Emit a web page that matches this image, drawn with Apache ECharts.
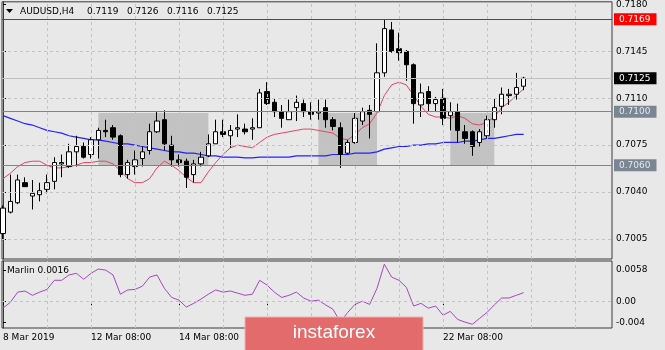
<!DOCTYPE html>
<html>
<head>
<meta charset="utf-8">
<script src="https://cdn.jsdelivr.net/npm/echarts@6/dist/echarts.min.js"></script>
<style>
html, body { margin: 0; padding: 0; background: #e8e8e8; }
#main { width: 665px; height: 350px; }
</style>
</head>
<body>
<div id="main"></div>
<script>
// AUDUSD H4, 8 Mar 2019 08:00 ..
var symbolName = 'AUDUSD,H4';

var openP = [0.7009,0.7025,0.7032,0.7047,0.7037,0.7038,0.7042,0.7048,0.7061,0.7059,
    0.7070,0.7074,0.7068,0.7079,0.7086,0.7088,0.7082,0.7053,0.7059,0.7065,
    0.7071,0.7085,0.7094,0.7075,0.7064,0.7063,0.7053,0.7061,0.7067,0.7076,
    0.7085,0.7082,0.7087,0.7087,0.7087,0.7088,0.7115,0.7107,0.7100,0.7094,
    0.7103,0.7106,0.7100,0.7099,0.7103,0.7094,0.7088,0.7069,0.7077,0.7093,
    0.7101,0.7100,0.7129,0.7161,0.7147,0.7145,0.7135,0.7105,0.7115,0.7106,
    0.7110,0.7097,0.7100,0.7085,0.7085,0.7077,0.7082,0.7094,0.7104,0.7112,
    0.7113,0.7119];
var highP = [0.7030,0.7053,0.7053,0.7051,0.7049,0.7047,0.7053,0.7066,0.7068,0.7076,
    0.7082,0.7077,0.7081,0.7088,0.7094,0.7090,0.7083,0.7064,0.7071,0.7074,
    0.7091,0.7100,0.7101,0.7082,0.7068,0.7065,0.7064,0.7070,0.7083,0.7094,
    0.7094,0.7090,0.7098,0.7091,0.7095,0.7117,0.7122,0.7110,0.7105,0.7109,
    0.7112,0.7109,0.7107,0.7109,0.7109,0.7096,0.7092,0.7079,0.7099,0.7103,
    0.7105,0.7151,0.7169,0.7167,0.7159,0.7146,0.7136,0.7121,0.7119,0.7111,
    0.7117,0.7107,0.7106,0.7090,0.7086,0.7087,0.7097,0.7110,0.7118,0.7117,
    0.7129,0.7126];
var lowP = [0.7004,0.7024,0.7031,0.7044,0.7027,0.7033,0.7039,0.7042,0.7051,0.7058,
    0.7059,0.7065,0.7065,0.7065,0.7081,0.7079,0.7051,0.7050,0.7053,0.7059,
    0.7068,0.7084,0.7071,0.7059,0.7059,0.7043,0.7047,0.7059,0.7066,0.7076,
    0.7081,0.7073,0.7081,0.7083,0.7079,0.7088,0.7105,0.7096,0.7088,0.7094,
    0.7093,0.7096,0.7094,0.7094,0.7088,0.7086,0.7058,0.7068,0.7076,0.7090,
    0.7080,0.7100,0.7126,0.7144,0.7138,0.7123,0.7091,0.7096,0.7100,0.7100,
    0.7090,0.7086,0.7077,0.7076,0.7067,0.7074,0.7080,0.7088,0.7098,0.7105,
    0.7109,0.7116];
var closeP = [0.7028,0.7033,0.7049,0.7044,0.7039,0.7041,0.7047,0.7062,0.7062,0.7070,
    0.7074,0.7066,0.7079,0.7086,0.7085,0.7081,0.7053,0.7062,0.7064,0.7070,
    0.7085,0.7093,0.7076,0.7064,0.7062,0.7051,0.7061,0.7066,0.7076,0.7085,
    0.7083,0.7086,0.7088,0.7085,0.7088,0.7114,0.7106,0.7100,0.7095,0.7100,
    0.7107,0.7100,0.7098,0.7100,0.7094,0.7089,0.7068,0.7077,0.7095,0.7100,
    0.7098,0.7129,0.7162,0.7145,0.7144,0.7135,0.7106,0.7114,0.7106,0.7109,
    0.7095,0.7100,0.7086,0.7080,0.7074,0.7085,0.7094,0.7103,0.7113,0.7113,
    0.7118,0.7125];

// moving averages
var maFast = [0.7050,0.7054,0.7059,0.7062,0.7063,0.7063,0.7060,0.7058,0.7058,0.7059,
    0.7060,0.7062,0.7062,0.7063,0.7063,0.7061,0.7056,0.7050,0.7047,0.7047,
    0.7050,0.7058,0.7063,0.7060,0.7056,0.7051,0.7047,0.7047,0.7055,0.7062,
    0.7068,0.7073,0.7075,0.7074,0.7073,0.7077,0.7081,0.7083,0.7084,0.7085,
    0.7086,0.7087,0.7087,0.7086,0.7085,0.7084,0.7080,0.7079,0.7083,0.7088,
    0.7091,0.7099,0.7112,0.7120,0.7122,0.7120,0.7112,0.7104,0.7098,0.7096,
    0.7096,0.7095,0.7097,0.7095,0.7091,0.7090,0.7092,0.7096,0.7103,0.7107,
    0.7112,0.7117];
var maSlow = [0.7097,0.7095,0.7093,0.7091,0.7090,0.7088,0.7086,0.7085,0.7084,0.7082,
    0.7081,0.7080,0.7079,0.7079,0.7078,0.7077,0.7076,0.7076,0.7075,0.7074,
    0.7073,0.7072,0.7071,0.7070,0.7070,0.7069,0.7069,0.7068,0.7067,0.7067,
    0.7066,0.7066,0.7066,0.70655,0.70655,0.7066,0.7066,0.7066,0.7066,0.7066,
    0.7067,0.7067,0.7067,0.7067,0.7067,0.7068,0.7068,0.7068,0.7069,0.7069,
    0.7069,0.7070,0.7072,0.7073,0.7074,0.7074,0.7075,0.7075,0.7076,0.7076,
    0.7077,0.7077,0.7077,0.7078,0.7078,0.7079,0.7080,0.7080,0.7081,0.7082,
    0.7083,0.7083];

var marlin = [-0.0013,-0.0002,0.0017,0.0019,0.0011,0.0017,0.0022,0.0039,0.0039,0.0049,
    0.0052,0.0041,0.0052,0.0060,0.0058,0.0049,0.0013,0.0021,0.0022,0.0028,
    0.0045,0.0049,0.0024,0.0007,0.0002,-0.0011,-0.0004,0.0004,0.0013,0.0021,
    0.0017,0.0019,0.0015,0.0011,0.0013,0.0039,0.0030,0.0017,0.0007,0.0011,
    0.0017,0.0006,0.0000,0.0002,-0.0007,-0.0015,-0.0039,-0.0021,-0.0006,0.0000,
    -0.0006,0.0024,0.0069,0.0045,0.0039,0.0026,-0.0009,-0.0004,-0.0013,-0.0009,
    -0.0026,-0.0019,-0.0034,-0.0039,-0.0043,-0.0032,-0.0021,-0.0007,0.0006,0.0006,
    0.0011,0.0016];

var priceTicks = [0.7005, 0.7040, 0.7075, 0.7110, 0.7145, 0.7180];
var marlinTicks = [-0.004, 0, 0.0058];
var marlinTickLabels = ['-0.004', '0.00', '0.0058'];
var gridBars = [6, 12, 18, 24, 30, 36, 42, 48, 54, 60, 66, 72, 78];
var labelBars = [0, 12, 24, 36, 48, 60];

var resistLevel = 0.7169;
var supportLevels = [0.7100, 0.7060];
// consolidation boxes: [from bar, to bar, top, bottom]
var boxes = [[13, 28, 0.7099, 0.7060], [43, 51, 0.7099, 0.7060], [61, 67, 0.7099, 0.7060]];

// bar times, H4, weekends skipped
var months = ['Jan','Feb','Mar','Apr','May','Jun','Jul','Aug','Sep','Oct','Nov','Dec'];
var barTimes = [];
(function () {
    var t = Date.UTC(2019, 2, 8, 8);
    while (barTimes.length < openP.length + 12) {
        var d = new Date(t);
        var wd = d.getUTCDay();
        if (wd !== 0 && wd !== 6) barTimes.push(d);
        t += 4 * 3600 * 1000;
    }
})();
function pad(n) { return n < 10 ? '0' + n : '' + n; }
function timeLabel(i) {
    var d = barTimes[i];
    if (!d) return '';
    if (i === 0) return d.getUTCDate() + ' ' + months[d.getUTCMonth()] + ' ' + d.getUTCFullYear();
    return d.getUTCDate() + ' ' + months[d.getUTCMonth()] + ' ' + pad(d.getUTCHours()) + ':' + pad(d.getUTCMinutes());
}

var candles = [], fastLine = [], slowLine = [], marlinLine = [];
for (var i = 0; i < openP.length; i++) {
    candles.push([i, openP[i], closeP[i], lowP[i], highP[i]]);
    fastLine.push([i, maFast[i]]);
    slowLine.push([i, maSlow[i]]);
    marlinLine.push([i, marlin[i]]);
}
var last = openP.length - 1;
var bid = closeP[last];

var font = 'DejaVu Sans';
var gridCol = '#c4c4c4';
var frameCol = '#3a3a3a';
var xMin = -0.14, xMax = 83.05;

var dashed = { color: gridCol, type: [3, 3], width: 1 };
var noLabel = { show: false };

function levelLine(v, lineCol, bg, fg) {
    return {
        yAxis: v,
        lineStyle: { color: lineCol, width: 1, type: 'solid' },
        label: {
            show: true, position: 'end', distance: 2,
            formatter: function () { return v.toFixed(4); },
            backgroundColor: bg, color: fg, padding: [2, 6, 1, 5],
            fontFamily: font, fontSize: 9
        }
    };
}

// grid lines for main pane
var mainGrid = [];
gridBars.forEach(function (b) { mainGrid.push({ xAxis: b, lineStyle: dashed, label: noLabel }); });
priceTicks.forEach(function (p) { if (p < 0.7178) mainGrid.push({ yAxis: p, lineStyle: dashed, label: noLabel }); });
var subGrid = [];
gridBars.forEach(function (b) { subGrid.push({ xAxis: b, lineStyle: dashed, label: noLabel }); });
subGrid.push({ yAxis: 0, lineStyle: dashed, label: noLabel });

var chart = echarts.init(document.getElementById('main'));
chart.setOption({
    animation: false,
    backgroundColor: '#e8e8e8',
    grid: [
        { left: 2, top: 1, width: 610, height: 258, show: true, borderColor: frameCol, borderWidth: 1 },
        { left: 2, top: 261, width: 610, height: 67, show: true, borderColor: frameCol, borderWidth: 1 }
    ],
    xAxis: [
        {
            type: 'value', gridIndex: 0, min: xMin, max: xMax,
            axisLine: { show: false }, axisLabel: { show: false },
            axisTick: { show: false }, splitLine: { show: false }
        },
        {
            type: 'value', gridIndex: 1, min: xMin, max: xMax, position: 'bottom',
            axisLine: { show: false },
            axisTick: { show: true, length: 4, inside: false, customValues: labelBars, lineStyle: { color: '#000' } },
            axisLabel: {
                show: true, customValues: labelBars, margin: 5, align: 'left',
                color: '#000', fontFamily: font, fontSize: 9,
                formatter: function (v) { return timeLabel(Math.round(v)); }
            },
            splitLine: { show: false }
        }
    ],
    yAxis: [
        {
            type: 'value', gridIndex: 0, position: 'right', min: 0.6990, max: 0.7182,
            axisLine: { show: true, lineStyle: { color: frameCol } },
            axisTick: { show: true, length: 3, customValues: priceTicks, lineStyle: { color: '#000' } },
            axisLabel: {
                show: true, customValues: priceTicks, margin: 4, color: '#000',
                fontFamily: font, fontSize: 9,
                formatter: function (v) { return v.toFixed(4); }
            },
            splitLine: { show: false }
        },
        {
            type: 'value', gridIndex: 1, position: 'right', min: -0.0050, max: 0.0075,
            axisLine: { show: true, lineStyle: { color: frameCol } },
            axisTick: { show: true, length: 3, customValues: marlinTicks, lineStyle: { color: '#000' } },
            axisLabel: {
                show: true, customValues: marlinTicks, margin: 4, color: '#000',
                fontFamily: font, fontSize: 9,
                formatter: function (v) {
                    for (var k = 0; k < marlinTicks.length; k++) {
                        if (Math.abs(marlinTicks[k] - v) < 1e-9) return marlinTickLabels[k];
                    }
                    return '';
                }
            },
            splitLine: { show: false }
        }
    ],
    series: [
        {
            // carrier for grid lines, zones and levels, line itself invisible
            type: 'line', name: 'zones', xAxisIndex: 0, yAxisIndex: 0, z: 1,
            data: slowLine, showSymbol: false, silent: true,
            lineStyle: { opacity: 0 },
            markArea: {
                silent: true,
                itemStyle: { color: '#c2c2c2' },
                data: boxes.map(function (b) {
                    return [{ xAxis: b[0], yAxis: b[2] }, { xAxis: b[1], yAxis: b[3] }];
                })
            },
            markLine: {
                silent: true, symbol: 'none', animation: false, precision: 5,
                data: mainGrid.concat([
                    levelLine(bid, '#c0c0c0', '#000000', '#ffffff'),
                    levelLine(supportLevels[0], '#7a8694', '#7a8694', '#e8e8e8'),
                    levelLine(supportLevels[1], '#7a8694', '#7a8694', '#e8e8e8'),
                    levelLine(resistLevel, '#ff0000', '#ff0000', '#ffffff')
                ])
            }
        },
        {
            type: 'line', name: 'MA slow', xAxisIndex: 0, yAxisIndex: 0, z: 2,
            data: slowLine, showSymbol: false, silent: true,
            lineStyle: { color: '#2222ff', width: 1.2 }
        },
        {
            type: 'line', name: 'MA fast', xAxisIndex: 0, yAxisIndex: 0, z: 2,
            data: fastLine, showSymbol: false, silent: true,
            lineStyle: { color: '#e04562', width: 1 }
        },
        {
            type: 'candlestick', name: symbolName, xAxisIndex: 0, yAxisIndex: 0, z: 3,
            data: candles, encode: { x: 0, y: [1, 2, 3, 4] },
            barWidth: 5, silent: true,
            itemStyle: { color: '#ffffff', color0: '#000000', borderColor: '#000000', borderColor0: '#000000', borderWidth: 1 }
        },
        {
            type: 'line', name: 'Marlin', xAxisIndex: 1, yAxisIndex: 1, z: 2,
            data: marlinLine, showSymbol: false, silent: true,
            lineStyle: { color: '#a646c4', width: 1 },
            markLine: {
                silent: true, symbol: 'none', animation: false, precision: 5,
                data: subGrid
            }
        }
    ],
    graphic: [
        { type: 'polygon', z: 100, shape: { points: [[6, 9], [13, 9], [9.5, 13]] }, style: { fill: '#000' } },
        { type: 'text', z: 100, x: 20, y: 12, style: { text: symbolName, fill: '#000', font: '9px "DejaVu Sans"', verticalAlign: 'middle' } },
        { type: 'text', z: 100, x: 87, y: 12, style: { text: openP[last].toFixed(4), fill: '#000', font: '9px "DejaVu Sans"', verticalAlign: 'middle' } },
        { type: 'text', z: 100, x: 127, y: 12, style: { text: highP[last].toFixed(4), fill: '#000', font: '9px "DejaVu Sans"', verticalAlign: 'middle' } },
        { type: 'text', z: 100, x: 167, y: 12, style: { text: lowP[last].toFixed(4), fill: '#000', font: '9px "DejaVu Sans"', verticalAlign: 'middle' } },
        { type: 'text', z: 100, x: 207, y: 12, style: { text: closeP[last].toFixed(4), fill: '#000', font: '9px "DejaVu Sans"', verticalAlign: 'middle' } },
        { type: 'text', z: 100, x: 7, y: 271, style: { text: 'Marlin ' + marlin[last].toFixed(4), fill: '#000', font: '9px "DejaVu Sans"', verticalAlign: 'middle' } },
        { type: 'rect', z: 100, shape: { x: 245, y: 317, width: 178, height: 40 }, style: { fill: '#e36b6b', stroke: '#f0b0b0', lineWidth: 1 } },
        { type: 'text', z: 101, x: 334, y: 333, style: { text: 'instaforex', fill: '#ffffff', font: '19px "Liberation Sans"', align: 'center', verticalAlign: 'middle' } }
    ]
});
</script>
</body>
</html>
